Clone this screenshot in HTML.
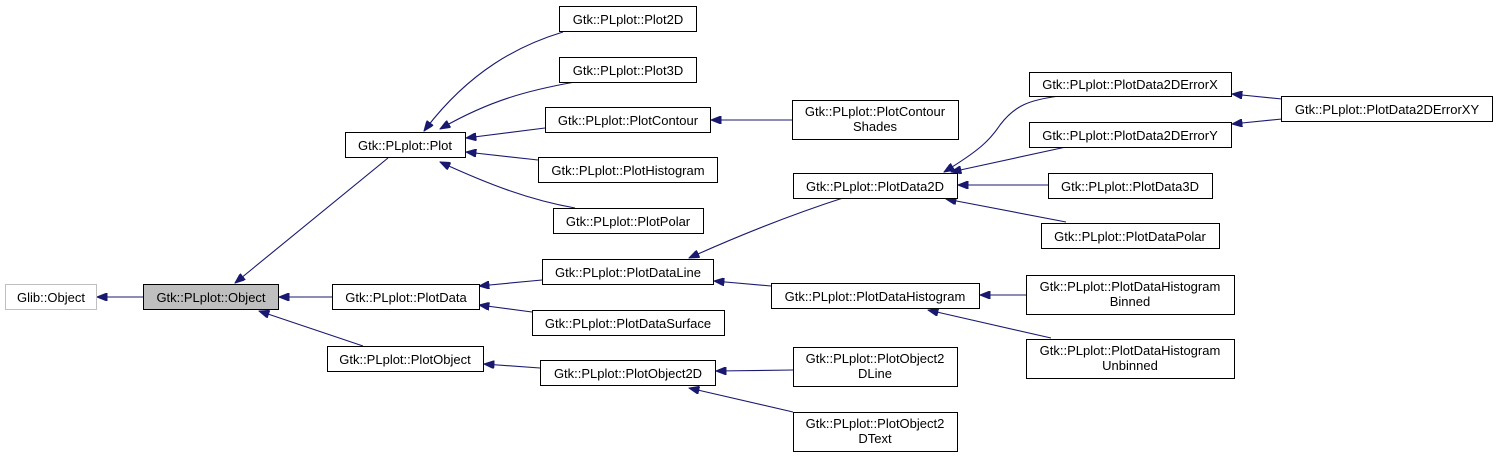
<!DOCTYPE html>
<html><head><meta charset="utf-8"><style>
html,body{margin:0;padding:0;background:#fff;}
svg{display:block;}
text{font-family:"Liberation Sans",Arial,sans-serif;font-size:13px;fill:#000;text-anchor:middle;}
rect{fill:#fff;stroke:#000;stroke-width:1;}
path{fill:none;stroke:#191970;stroke-width:1.1;}
</style></head><body>
<svg width="1497" height="458" viewBox="0 0 1497 458" xmlns="http://www.w3.org/2000/svg">
<defs>
<marker id="a" viewBox="0 0 10 8" refX="0" refY="4" markerWidth="11" markerHeight="8" markerUnits="userSpaceOnUse" orient="auto">
<path d="M10,0 L0,4 L10,8 z" style="fill:#191970;stroke:#191970;stroke-width:1"/>
</marker>
</defs>
<g style="marker-start:url(#a)">
<path d="M97,297 L143,297"/>
<path d="M235,283 L388,158"/>
<path d="M279,297 L332,297"/>
<path d="M259,311 L363,346"/>
<path d="M424,131 C470,70 520,45 563,32"/>
<path d="M440,129 C490,100 530,90 575,82"/>
<path d="M466,138 L545,128"/>
<path d="M466,152 L538,160"/>
<path d="M440,162 C490,185 530,200 575,208"/>
<path d="M711,120 L792,120"/>
<path d="M479,286 L542,280"/>
<path d="M479,305 L532,312"/>
<path d="M484,364 L540,368"/>
<path d="M689,258 C740,235 790,215 846,197"/>
<path d="M714,281 L771,286"/>
<path d="M944,172 C980,150 990,140 1000,125 C1015,105 1030,100 1059,96"/>
<path d="M951,172 L1066,147"/>
<path d="M958,185 L1048,185"/>
<path d="M946,199 L1066,222"/>
<path d="M1232,94 L1282,99"/>
<path d="M1232,124 L1282,119"/>
<path d="M980,295 L1026,295"/>
<path d="M928,310 L1051,338"/>
<path d="M716,371 L793,370"/>
<path d="M689,388 L793,412"/>
</g>
<rect x="5.5" y="284.5" width="91" height="25" style="stroke:#bfbfbf"/><text x="51" y="302">Glib::Object</text>
<rect x="143.5" y="284.5" width="135" height="25" style="fill:#bfbfbf"/><text x="211" y="302">Gtk::PLplot::Object</text>
<rect x="345.5" y="132.5" width="120" height="25"/><text x="405" y="150">Gtk::PLplot::Plot</text>
<rect x="332.5" y="284.5" width="147" height="25"/><text x="406" y="302">Gtk::PLplot::PlotData</text>
<rect x="327.5" y="346.5" width="156" height="25"/><text x="405" y="364">Gtk::PLplot::PlotObject</text>
<rect x="559.5" y="6.5" width="137" height="25"/><text x="628" y="24">Gtk::PLplot::Plot2D</text>
<rect x="559.5" y="57.5" width="137" height="25"/><text x="628" y="75">Gtk::PLplot::Plot3D</text>
<rect x="545.5" y="107.5" width="165" height="25"/><text x="628" y="125">Gtk::PLplot::PlotContour</text>
<rect x="538.5" y="157.5" width="179" height="25"/><text x="628" y="175">Gtk::PLplot::PlotHistogram</text>
<rect x="553.5" y="208.5" width="150" height="25"/><text x="628" y="226">Gtk::PLplot::PlotPolar</text>
<rect x="542.5" y="259.5" width="171" height="25"/><text x="628" y="277">Gtk::PLplot::PlotDataLine</text>
<rect x="532.5" y="310.5" width="192" height="25"/><text x="628" y="328">Gtk::PLplot::PlotDataSurface</text>
<rect x="540.5" y="360.5" width="175" height="25"/><text x="628" y="378">Gtk::PLplot::PlotObject2D</text>
<rect x="792.5" y="100.5" width="166" height="39"/><text x="875" y="116">Gtk::PLplot::PlotContour</text><text x="875" y="131">Shades</text>
<rect x="793.5" y="173.5" width="164" height="25"/><text x="875" y="191">Gtk::PLplot::PlotData2D</text>
<rect x="771.5" y="283.5" width="208" height="25"/><text x="875" y="301">Gtk::PLplot::PlotDataHistogram</text>
<rect x="793.5" y="347.5" width="164" height="39"/><text x="875" y="363">Gtk::PLplot::PlotObject2</text><text x="875" y="378">DLine</text>
<rect x="793.5" y="412.5" width="164" height="39"/><text x="875" y="428">Gtk::PLplot::PlotObject2</text><text x="875" y="443">DText</text>
<rect x="1029.5" y="72.5" width="202" height="24"/><text x="1130" y="89">Gtk::PLplot::PlotData2DErrorX</text>
<rect x="1029.5" y="122.5" width="202" height="25"/><text x="1130" y="140">Gtk::PLplot::PlotData2DErrorY</text>
<rect x="1048.5" y="173.5" width="164" height="25"/><text x="1130" y="191">Gtk::PLplot::PlotData3D</text>
<rect x="1041.5" y="223.5" width="178" height="25"/><text x="1130" y="241">Gtk::PLplot::PlotDataPolar</text>
<rect x="1026.5" y="275.5" width="208" height="39"/><text x="1130" y="291">Gtk::PLplot::PlotDataHistogram</text><text x="1130" y="306">Binned</text>
<rect x="1026.5" y="339.5" width="208" height="39"/><text x="1130" y="355">Gtk::PLplot::PlotDataHistogram</text><text x="1130" y="370">Unbinned</text>
<rect x="1281.5" y="96.5" width="211" height="25"/><text x="1387" y="114">Gtk::PLplot::PlotData2DErrorXY</text>
</svg>
</body></html>
